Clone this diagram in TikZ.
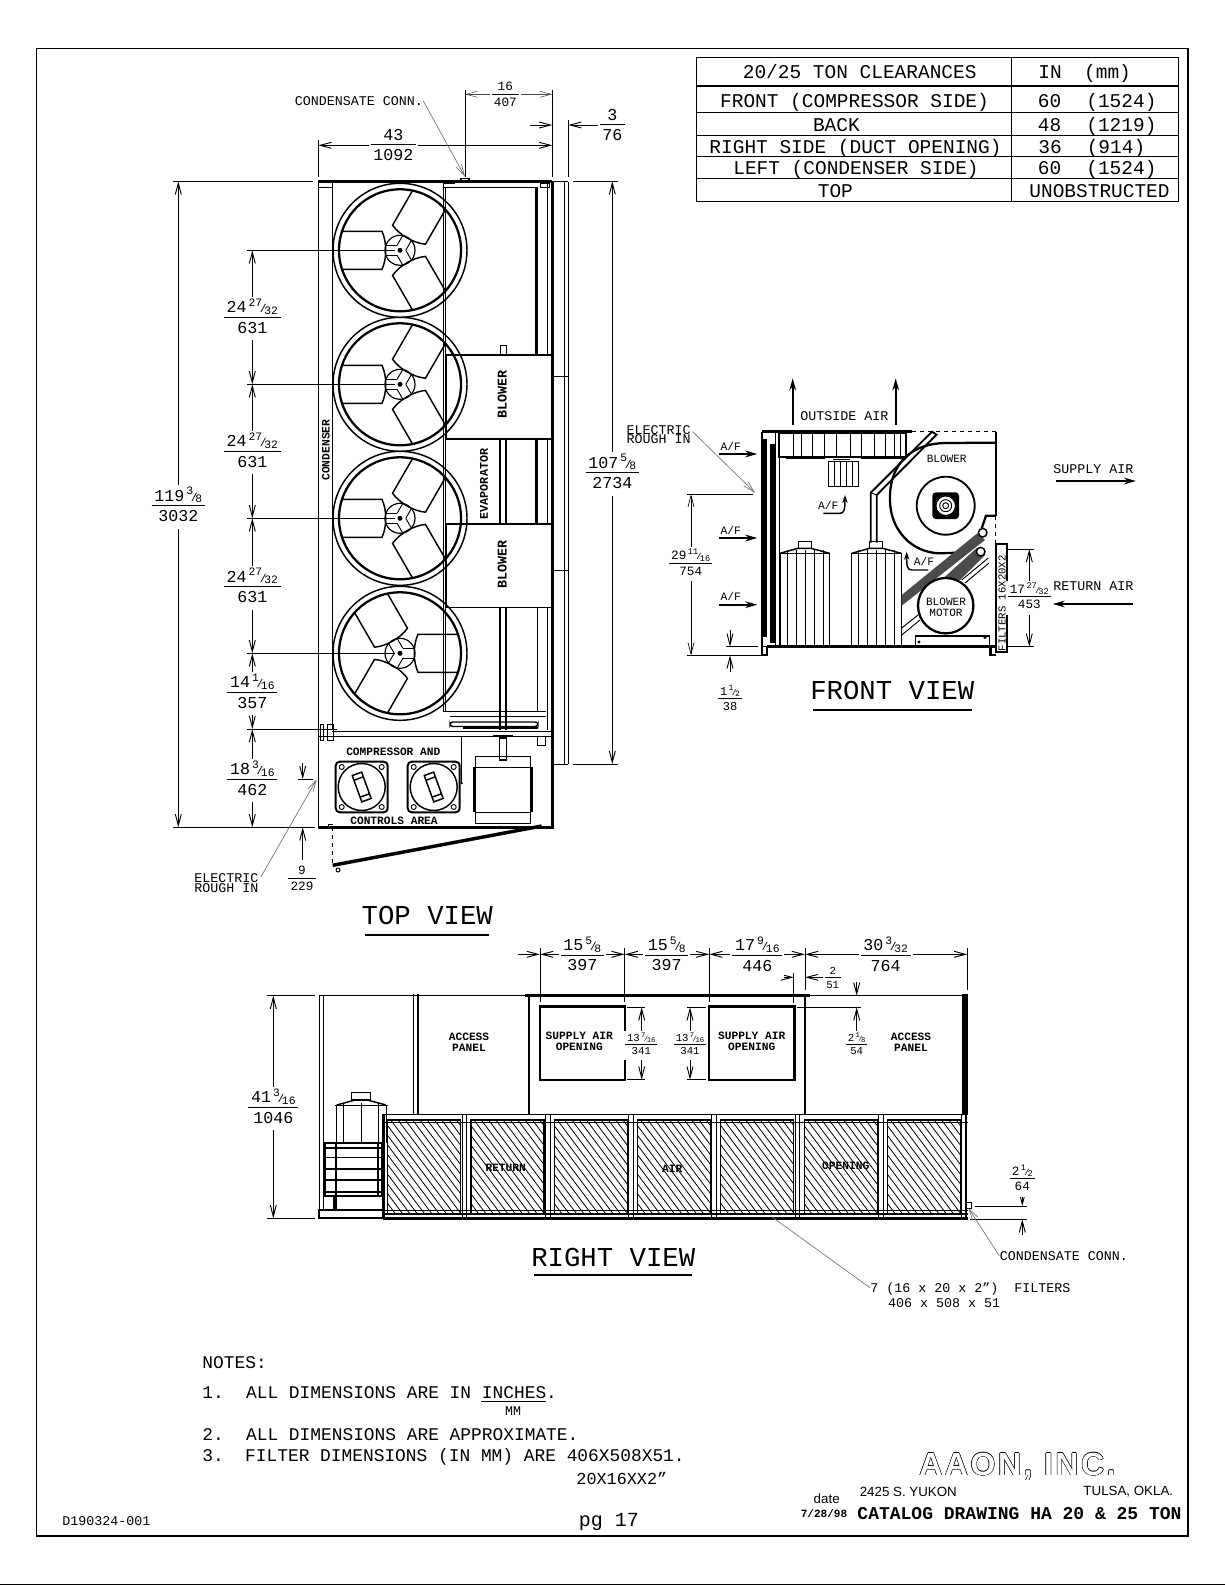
\documentclass[tikz,border=0pt]{standalone}
\usepackage{fontspec}
\setmainfont{Liberation Mono}
\newfontfamily\sansfont{Liberation Sans}
\newfontfamily\logofont[LetterSpace=8]{Liberation Sans}
\usetikzlibrary{arrows.meta}

\tikzset{
    >={Straight Barb[length=8.5pt,width=4.5pt]},
    cad/.style={font=\fontsize{#1}{#1}\selectfont,inner sep=0pt,text height=.66*#1 pt,text depth=0pt},
    cadb/.style={font=\fontsize{#1}{#1}\bfseries\selectfont,inner sep=0pt},
    dimlab/.style={font=\fontsize{#1}{#1}\selectfont,inner sep=1.5pt,fill=white,yshift=-1.5pt},
    dimline/.style={<->,line width=.7pt},
    extline/.style={line width=.7pt},
    leader/.style={->,line width=.5pt,black!55},
    wall/.style={line width=2pt},
    edge/.style={line width=1.1pt},
    airflow/.style={-{Stealth[length=9pt,width=5pt]},line width=1.5pt},
}

% stacked dimension, inches over mm
\newcommand{\fr}[2]{\begin{tabular}{@{\,}c@{\,}}#1\\[-.05em]\hline\rule{0pt}{.95em}#2\end{tabular}}
\newcommand{\sfr}[2]{\hspace{.12em}\raisebox{.38em}{\scalebox{.68}{#1}}\hspace{-.14em}\scalebox{.68}{/}\hspace{-.14em}\raisebox{-.1em}{\scalebox{.68}{#2}}}

\newcommand{\fan}[3]{
    \begin{scope}[shift={(#1,#2)},xscale=#3]
        \draw[line width=1.1pt] circle [radius=67];
        \draw[line width=1.7pt] circle [radius=61];
        \draw[line width=.9pt] circle [radius=15];
        \fill circle [radius=2.5];
        \foreach \ang in {0,120,240} {
            \begin{scope}[rotate=\ang]
                \draw[edge] (-57,-19) -- (-18,-19) .. controls (-13,-8) and (-13,8) .. (-18,19) -- (-57,19);
                \draw (-14,-5) -- (-3,-5) (-14,5) -- (-3,5);
            \end{scope}
        }
    \end{scope}
}

\begin{document}
\begin{tikzpicture}[x=.75pt,y=-.75pt,line width=.7pt]
    \useasboundingbox (0,0) rectangle (1225,1585);
    \fill[white] (0,0) rectangle (1225,1585);
    \draw[line width=1.1pt] (36.5,48.5) rectangle (1188,1536);
    \draw (0,1584) -- (1225,1584);

    % clearances table
    \draw[line width=.8pt] (696.3,57.7) rectangle (1178.4,201.3);
    \draw[line width=.8pt] (1011.6,57.7) -- (1011.6,201.3);
    \foreach \yy in {86,112.3,135.3,156.3,178.7}
        \draw[line width=.8pt] (696.3,\yy) -- (1178.4,\yy);
    \begin{scope}[every node/.style={cad=14.6}]
        \node (clrhead) at (859.7,72) {20/25 TON CLEARANCES};
        \node (clrfront) at (854.5,100.7) {FRONT (COMPRESSOR SIDE)};
        \node (clrback) at (836.4,125.3) {BACK};
        \node (clrright) at (855.5,147.3) {RIGHT SIDE (DUCT OPENING)};
        \node (clrleft) at (856,168.3) {LEFT (CONDENSER SIDE)};
        \node (clrtop) at (835.4,190.7) {TOP};
        \node (inhead) at (1050,72) {IN};
        \node (mmhead) at (1107.5,72) {(mm)};
        \node (in60a) at (1049.5,100.7) {60};
        \node (mm60a) at (1121.4,100.7) {(1524)};
        \node (in48) at (1049.5,125.3) {48};
        \node (mm48) at (1121.4,125.3) {(1219)};
        \node (in36) at (1050,147.3) {36};
        \node (mm36) at (1116,147.3) {(914)};
        \node (in60b) at (1049.5,168.3) {60};
        \node (mm60b) at (1121.4,168.3) {(1524)};
        \node (unobstr) at (1099.5,190.7) {UNOBSTRUCTED};
    \end{scope}

    % top view
    \draw[wall] (318.3,181.7) -- (552.3,181.7);
    \draw[wall] (552.3,181.7) -- (552.3,827.3) -- (318.3,827.3);
    \draw[edge] (318.3,181.7) -- (318.3,827.3);
    \draw (332.3,181.7) -- (332.3,729);
    \draw (318.3,187) -- (332.3,187);
    \draw (443,183) -- (443,712) (445,187) -- (445,712);
    \draw (443,183) -- (455,183) (443,187) -- (536,187);
    \draw (547,183) -- (547,355) (547,439) -- (547,524) (547,608) -- (547,730);
    \draw (540,187) rectangle (549,183);
    \draw[line width=2.6pt] (536.7,187) -- (536.7,355) (536.7,439) -- (536.7,524);
    \draw (537,608) -- (537,712);
    \draw (564.3,181.7) -- (564.3,764) (568.3,181.7) -- (568.3,764);
    \draw (552.3,376) -- (568.3,376) (552.3,570) -- (568.3,570) (552.3,764) -- (568.3,764);
    \draw (552.3,181.7) -- (568.3,181.7);
    \draw[edge] (461,178.3) rectangle (469,181.7);

    % blower boxes and drive shaft
    \draw (500,345) rectangle (506,355);
    \draw[edge] (446.7,355) rectangle (551.7,439);
    \draw[edge] (446.7,524) rectangle (551.7,607.7);
    \draw[edge] (500,439) -- (500,524) (506,439) -- (506,524);
    \draw[edge] (500,607.7) -- (500,730) (506,607.7) -- (506,730);
    \node[cadb=10,rotate=90] (blowera) at (502.3,394.3) {BLOWER};
    \node[cadb=10,rotate=90] (blowerb) at (502.3,564.3) {BLOWER};
    \node[cadb=8.8,rotate=90] (evap) at (484,484) {EVAPORATOR};
    \node[cadb=8.5,rotate=90] (cond) at (326,450) {CONDENSER};
    \fan{400}{250.3}{1}
    \fan{400}{384.3}{1}
    \fan{400}{518.3}{1}
    \fan{400}{653.3}{-1}

    % compressor compartment
    \draw (332.3,731.7) -- (552,731.7) (332.3,736) -- (552,736);
    \draw (318.3,736) -- (332,736);
    \draw (320,724.5) rectangle (323.5,740) (327,724.5) rectangle (333,740);
    \draw (443,711.7) -- (546,711.7) (450,716.7) -- (546,716.7);
    \draw[edge,rounded corners=2pt] (450,722) rectangle (538,726.5);
    \draw[line width=1.6pt] (463,728) -- (538,728);
    \draw (461.7,736) -- (461.7,783);
    \fill (461.7,783) circle [radius=1.3];
    \draw (537.3,736.7) rectangle (545.7,745);
    \foreach \cx in {361.7,433.7} {
        \begin{scope}[shift={(\cx,787)}]
            \draw[line width=1.5pt,rounded corners=3pt] (-26,-25.3) rectangle (26,25.3);
            \draw[edge] circle [radius=23.5];
            \foreach \bx/\by in {-20/-20,20/-20,-20/20,20/20}
                \draw (\bx,\by) circle [radius=2.5];
            \begin{scope}[rotate=20]
                \draw[edge] (-5,-14) rectangle (5,14);
                \draw[edge] (-5,-9) -- (5,-9) (-5,9) -- (5,9);
            \end{scope}
        \end{scope}
    }
    \draw[line width=1.6pt] (492.7,736) -- (513.3,736);
    \draw[edge] (499.3,738) rectangle (506.7,760);
    \draw[edge] (475.7,756.7) rectangle (530.7,823.3);
    \draw[edge] (475.7,767.3) -- (530.7,767.3) (475.7,812.3) -- (530.7,812.3);
    \draw[line width=1.6pt] (474.5,767.3) -- (474.5,812.3) (531.5,767.3) -- (531.5,812.3);
    \node[cadb=8.4] (compr) at (393.3,751.7) {COMPRESSOR AND};
    \node[cadb=8.4] (ctrl) at (394,821) {CONTROLS AREA};

    % open door
    \draw[line width=2.6pt] (541.7,826) -- (332.7,865.3);
    \draw[dashed] (332.3,827.3) -- (332.3,865);
    \draw (328.5,826) -- (328.5,824) -- (332.5,824);
    \draw (338,870) circle [radius=2];

    % top view dimensions
    \draw[extline] (173.3,181.3) -- (313.3,181.3) (573.3,181.3) -- (618.3,181.3);
    \draw[extline] (173.3,827.3) -- (315,827.3) (573.3,764) -- (618.3,764);
    \draw[extline] (318.3,140) -- (318.3,176.7) (552.3,120) -- (552.3,176.7);
    \draw[extline] (568.3,120) -- (568.3,176.7);
    \draw[extline] (465,90) -- (465,176.7) (552.3,90) -- (552.3,120);
    \foreach \yy in {250.3,384.3,518.3,653.3}
        \draw[extline] (247.3,\yy) -- (395,\yy);
    \draw[extline] (247.3,729) -- (336.7,729);
    \draw[dimline] (318.3,145.3) -- (552.3,145.3);
    \draw[dimline,line width=.4pt,black!70] (465,94.3) -- (552.3,94.3);
    \draw[->] (530,125) -- (552.3,125);
    \draw[->] (598,125) -- (568.3,125);
    \draw[dimline] (178.3,181.3) -- (178.3,827.3);
    \draw[dimline] (612.3,181.3) -- (612.3,764);
    \foreach \ya/\yb in {250.3/384.3,384.3/518.3,518.3/653.3,653.3/729,729/827.3}
        \draw[dimline] (252.3,\ya) -- (252.3,\yb);
    \draw[extline] (298,779) -- (313,779);
    \draw[->] (302.7,763) -- (302.7,779);
    \draw[->] (302.7,860) -- (302.7,827.3);
    \node[dimlab=12.5] (dwidth) at (393.3,145) {\fr{43}{1092}};
    \node[dimlab=9.5] (dconn) at (505.3,94.3) {\fr{16}{407}};
    \node[dimlab=12.5] (dpanel) at (612.3,125) {\fr{3}{76}};
    \node[dimlab=12.5] (dlength) at (178.3,505) {\fr{119\sfr{3}{8}}{3032}};
    \node[dimlab=12.5] (dcoil) at (612.3,472) {\fr{107\sfr{5}{8}}{2734}};
    \node[dimlab=12.5] (dpitcha) at (252.3,316.7) {\fr{24\sfr{27}{32}}{631}};
    \node[dimlab=12.5] (dpitchb) at (252.3,450.7) {\fr{24\sfr{27}{32}}{631}};
    \node[dimlab=12.5] (dpitchc) at (252.3,586) {\fr{24\sfr{27}{32}}{631}};
    \node[dimlab=12.5] (dfanend) at (252.3,691.7) {\fr{14\sfr{1}{16}}{357}};
    \node[dimlab=12.5] (dcompr) at (252.3,778.3) {\fr{18\sfr{3}{16}}{462}};
    \node[dimlab=9.5] (dnine) at (302,878) {\fr{9}{229}};

    \node[cad=10,anchor=west] (condtop) at (294.3,101) {CONDENSATE CONN.};
    \draw[leader] (condtop.east) -- (465,176.7);
    \node[cad=10] (elecb) at (226.3,878) {ELECTRIC};
    \node[cad=10] (roughb) at (226.3,888) {ROUGH IN};
    \draw[leader] (261,876.7) -- (316.7,779.3);
    \node[cad=20.5] (topview) at (427.3,915) {TOP VIEW};
    \draw[line width=1.6pt] (365,934.7) -- (489,934.7);

    % front view
    \draw[line width=1.3pt] (761.7,431.7) -- (761.7,655) -- (767,655) -- (767,646.7);
    \draw[line width=1.9pt] (767,646.7) -- (995.7,646.7);
    \draw[line width=2.4pt] (761.7,431.7) -- (911.7,431.7);
    \draw[dashed,line width=1pt] (911.7,431.7) -- (995.7,431.7);
    \draw[line width=1.4pt] (995.7,431.7) -- (995.7,515.7);
    \draw[dashed,line width=1pt] (995.7,515.7) -- (995.7,544);
    \draw[line width=1.6pt] (990.5,646.7) -- (990.5,655) -- (995.7,655);
    \fill (761.7,439) rectangle (766.7,636.7);
    \fill (770,444) rectangle (775.7,642.7);
    \draw (775.7,431.7) -- (775.7,646.7);
    \draw[edge] (779.3,431.7) -- (779.3,646.7);
    \draw (761.7,646.7) -- (779,646.7);
    \draw[line width=1.6pt] (779.3,433.3) rectangle (906,456.7);
    \foreach \xx in {793,801.7,812.7,824,836.7,850,861.7,874,885,894,900}
        \draw (\xx,434) -- (\xx,456);
    \draw[line width=1.3pt] (786,458.3) -- (825,458.3) (860.7,458.3) -- (905,458.3);
    \draw (828.3,461.7) rectangle (858.7,486.7);
    \foreach \xx in {834.3,840.3,846.3,852.3}
        \draw (\xx,461.7) -- (\xx,486.7);
    \draw[line width=1.3pt] (833,459.5) -- (850,459.5);
    \draw[line width=1.4pt] (870.7,542.7) -- (870.7,492.7) -- (932,431.7) -- (936.5,434.7) -- (876.7,495) -- (876.7,542.7);
    \draw (870.7,492.7) -- (876.7,495);
    \foreach \tx in {780,851.7} {
        \begin{scope}[shift={(\tx,0)}]
            \draw (0,553.3) rectangle (49.6,645);
            \draw[edge] (0,553.3) -- (18,548.3) -- (31,548.3) -- (49.6,553.3);
            \draw (18,541.7) rectangle (31,548.3);
            \foreach \xx in {7,16,25,34,43}
                \draw (\xx,550) -- (\xx,645);
            \draw (1,645) rectangle (4,647) (45,645) rectangle (48,647);
        \end{scope}
    }
    \draw[line width=1.7pt] (995.7,442.7) -- (945,443) .. controls (905,444) and (889,470) .. (890,500) .. controls (890,530) and (912,553) .. (940,553.3) -- (956.7,552.7);
    \draw[line width=1.7pt] (995.7,515.7) -- (986,515.7) -- (981.7,528.3);
    \draw[line width=1.4pt] (945.7,505.7) circle [radius=29];
    \fill[rounded corners=2.5pt] (932.4,492.4) rectangle (959,519);
    \fill[white] (945.7,505.7) circle [radius=10.5];
    \draw[edge] (945.7,505.7) circle [radius=10];
    \draw (945.7,505.7) circle [radius=6];
    \draw (945.7,505.7) circle [radius=3];
    \fill[black!70] (901.7,595) -- (977.3,533.3) -- (985,540) -- (901.7,605.7) -- cycle;
    \fill[black!70] (945,576.7) -- (976.7,548) -- (985,555) -- (960,580) -- cycle;
    \draw[edge,fill=white] (982.7,532.7) circle [radius=4.3];
    \draw[edge,fill=white] (980.7,551.7) circle [radius=4.3];
    \draw (961.7,580) -- (988.3,558) (965,583) -- (989,563);
    \draw (901.7,628) -- (918,615) (901.7,635) -- (920,620);
    \draw[line width=1.7pt] (945.7,605.7) circle [radius=27.7];
    \draw[line width=1.5pt] (915.7,635.5) -- (989.3,635.5);
    \draw (915.7,635.5) rectangle (989.3,645);
    \draw (919,642) circle [radius=1] (985,637.5) circle [radius=1];
    \draw[line width=1.6pt] (995.7,544) rectangle (1007.3,651.7);
    \node[cad=8,rotate=90] (filterlab) at (1002,603.3) {FILTERS 16X20X2};
    \node[cad=8.3] (blowerc) at (946.7,459) {BLOWER};
    \node[cad=8.3] (blowerd) at (946,602.3) {BLOWER};
    \node[cad=8.3] (motor) at (946,612.7) {MOTOR};

    % front view air flow
    \draw[airflow] (792.7,425) -- (792.7,378.3);
    \draw[airflow] (895.7,425) -- (895.7,378.3);
    \node[cad=10] (outair) at (844.3,415.7) {OUTSIDE AIR};
    \foreach \yy/\name in {454/afa,538/afb,604.7/afc} {
        \draw[airflow] (719.3,\yy) -- (757.3,\yy);
        \node[cad=8.5] (\name) at (730.7,\yy-7.5) {A/F};
    }
    \node[cad=8.5] (afd) at (828.3,506) {A/F};
    \draw[-{Stealth[length=6pt,width=4pt]},line width=1.1pt] (823.3,513.3) -- (840,513.3) .. controls (844,513.3) and (845,510) .. (845,495);
    \node[cad=8.5] (afe) at (924,562) {A/F};
    \draw[-{Stealth[length=6pt,width=4pt]},line width=1.1pt] (928.3,570) -- (912,570) .. controls (907,570) and (906.7,566) .. (906.7,551.7);
    \node[cad=10] (supply) at (1093.3,468.7) {SUPPLY AIR};
    \draw[airflow,line width=1.2pt] (1056,481) -- (1136,481);
    \node[cad=10] (return) at (1093.3,585.7) {RETURN AIR};
    \draw[airflow,line width=1.2pt] (1133.3,604) -- (1052.7,604);

    % front view dimensions
    \draw[extline] (1008,549) -- (1034,549) (1008,646.7) -- (1034,646.7);
    \draw[extline] (686.7,494.3) -- (753.3,494.3) (686.7,655.3) -- (761,655.3);
    \draw[extline] (726,646.7) -- (758.3,646.7);
    \draw[dimline] (1029.3,549) -- (1029.3,646.7);
    \draw[dimline,line width=.5pt] (691,494.3) -- (691,655.3);
    \draw[->] (730,630) -- (730,646.7);
    \draw[->] (730,671.7) -- (730,655.3);
    \node[dimlab=9.5] (dreturn) at (1029.3,595.7) {\fr{17\sfr{27}{32}}{453}};
    \node[dimlab=9.5] (drough) at (690.7,562.3) {\fr{29\sfr{11}{16}}{754}};
    \node[dimlab=9] (dbase) at (730,697.7) {\fr{1\sfr{1}{2}}{38}};
    \node[cad=10] (eleca) at (658.7,430.3) {ELECTRIC};
    \node[cad=10] (rougha) at (658.7,439.5) {ROUGH IN};
    \draw[leader] (692.7,431.7) -- (755,492.7);
    \node[cad=20.5] (frontview) at (892.3,690.7) {FRONT VIEW};
    \draw[line width=1.6pt] (812.7,710) -- (972,710);

    % right view
    \draw (319.3,995.7) -- (525,995.7) (810,995.7) -- (961.7,995.7);
    \draw[wall] (525,995.7) -- (810,995.7);
    \draw (319.3,995.7) -- (319.3,1218.3) (323.3,995.7) -- (323.3,1210);
    \draw[edge] (413.3,994) -- (413.3,1114.3);
    \draw[line width=1.9pt] (418,994) -- (418,1114.3);
    \draw[line width=1.5pt] (529,995.7) -- (529,1114.3);
    \draw[line width=1.5pt] (805,995.7) -- (805,1114.3);
    \fill (961.7,994) rectangle (968.3,1115);
    \draw[wall] (540,1006.7) rectangle (625,1080);
    \draw[wall] (709,1006.7) rectangle (794.3,1080);
    \node[cadb=8.4,align=center] (supplya) at (579.3,1041) {SUPPLY AIR\\OPENING};
    \node[cadb=8.4,align=center] (supplyb) at (751.7,1041) {SUPPLY AIR\\OPENING};
    \node[cadb=8.4,align=center] (accessa) at (469,1042) {ACCESS\\PANEL};
    \node[cadb=8.4,align=center] (accessb) at (911,1042) {ACCESS\\PANEL};

    % filter rack
    \draw[edge] (382.7,1114.3) -- (967.7,1114.3);
    \draw (382.7,1122.3) -- (967.7,1122.3);
    \draw (382.7,1210) -- (967.7,1210);
    \draw[line width=2.4pt] (382.7,1218.3) -- (967.7,1218.3);
    \draw[edge] (382.7,1214) -- (967.7,1214);
    \draw[wall] (383.5,1114.3) -- (383.5,1218.3);
    \draw[wall] (966,1115) -- (966,1218.3);
    \foreach \k in {0,...,6} {
        \begin{scope}[shift={(83.3*\k,0)}]
            \begin{scope}
                \clip (387.7,1120) rectangle (460.7,1213.3);
                \foreach \hx in {-70,-62.7,...,75}
                    \draw[line width=.6pt] (387.7+\hx,1120) -- (457.7+\hx,1213.3);
            \end{scope}
            \draw[line width=.8pt] (387.7,1120) rectangle (460.7,1213.3);
            \draw (466.7,1114.3) -- (466.7,1218.3) (462,1114.3) -- (462,1218.3);
        \end{scope}
    }
    \node[cadb=8.4] (filta) at (505.7,1168.3) {RETURN};
    \node[cadb=8.4] (filtb) at (672.3,1168.3) {AIR};
    \node[cadb=8.4] (filtc) at (845.7,1166) {OPENING};

    % right view compressor and condenser end
    \draw (336.7,1105) -- (336.7,1143.3) (386,1105) -- (386,1143.3);
    \draw[edge] (336.7,1105) -- (355,1100) -- (367.3,1100) -- (386,1105);
    \draw (335,1105) -- (388,1105);
    \draw[edge] (351.7,1092.7) rectangle (370.7,1100);
    \foreach \xx in {343.3,361,378.3}
        \draw (\xx,1103) -- (\xx,1143.3);
    \draw[line width=1.6pt] (325,1143.3) rectangle (381.7,1195.7);
    \draw[line width=1.3pt] (325,1148.3) -- (381.7,1148.3) (325,1169) -- (381.7,1169) (325,1180) -- (381.7,1180) (325,1191.7) -- (381.7,1191.7);
    \draw (325,1157.3) -- (381.7,1157.3);
    \draw[line width=1.3pt] (336,1143.3) -- (336,1195.7) (378,1143.3) -- (378,1195.7);
    \fill (333.3,1196.7) rectangle (337.3,1210);
    \draw[line width=1.6pt] (319.3,1210) rectangle (382.7,1218.3);
    \draw[edge] (965.7,1202.7) rectangle (971.7,1208.3);

    % right view dimensions
    \foreach \xx in {540,624.7,709.3}
        \draw[extline] (\xx,948.3) -- (\xx,1001.7);
    \draw[extline] (805,948.3) -- (805,990) (967.3,948.3) -- (967.3,990);
    \draw[extline] (793.7,973) -- (793.7,1003);
    \draw[->] (518.3,954.3) -- (540,954.3);
    \foreach \xa/\xb in {540/624.7,624.7/709.3,709.3/805,805/967.3}
        \draw[dimline] (\xa,954.3) -- (\xb,954.3);
    \draw[->] (780,977.3) -- (793.7,977.3);
    \draw[->] (825,977.3) -- (805,977.3);
    \draw[extline] (796.7,1007.3) -- (861,1007.3);
    \draw[->] (856.7,981.7) -- (856.7,995.7);
    \draw[->] (856.7,1031.7) -- (856.7,1007.3);
    \draw[extline] (627,1007.3) -- (645,1007.3) (627,1079.7) -- (645,1079.7);
    \draw[extline] (686.7,1007.3) -- (706,1007.3) (686.7,1079.7) -- (706,1079.7);
    \draw[dimline] (641.7,1007.3) -- (641.7,1079.7);
    \draw[dimline] (690,1007.3) -- (690,1079.7);
    \draw[extline] (267.3,995.7) -- (315,995.7) (267.3,1218.3) -- (315,1218.3);
    \draw[dimline] (273.3,995.7) -- (273.3,1218.3);
    \draw[extline] (975,1206) -- (1026.7,1206) (970,1219.3) -- (1026.7,1219.3);
    \draw[->] (1022.3,1193.3) -- (1022.3,1206);
    \draw[->] (1022.3,1235) -- (1022.3,1219.3);
    \node[dimlab=12.5] (dopena) at (582.3,954.3) {\fr{15\sfr{5}{8}}{397}};
    \node[dimlab=12.5] (dopenb) at (666.7,954.3) {\fr{15\sfr{5}{8}}{397}};
    \node[dimlab=12.5] (dopenc) at (757.3,954.3) {\fr{17\sfr{9}{16}}{446}};
    \node[dimlab=12.5] (dopend) at (885.7,954.3) {\fr{30\sfr{3}{32}}{764}};
    \node[dimlab=8] (dtwo) at (832.7,977.3) {\fr{2}{51}};
    \node[dimlab=8] (dtop) at (856.7,1043.3) {\fr{2\sfr{1}{8}}{54}};
    \node[dimlab=8] (dhgta) at (641.3,1043.3) {\fr{13\sfr{7}{16}}{341}};
    \node[dimlab=8] (dhgtb) at (690,1043.3) {\fr{13\sfr{7}{16}}{341}};
    \node[dimlab=12.5] (dheight) at (273.3,1106.7) {\fr{41\sfr{3}{16}}{1046}};
    \node[dimlab=9.5] (ddrain) at (1022.3,1177.7) {\fr{2\sfr{1}{2}}{64}};

    \node[cad=10,anchor=west] (condright) at (999.3,1255.7) {CONDENSATE CONN.};
    \draw[leader] (condright.west) -- (968.3,1208);
    \node[cad=10,anchor=west] (filtnote) at (870,1287.7) {7 (16 x 20 x 2")\ \ FILTERS};
    \node[cad=10,anchor=west] (filtmm) at (887.7,1302.7) {406 x 508 x 51};
    \draw[leader,-] (filtnote.west) -- (771.7,1216.7);
    \node[cad=20.5] (rightview) at (613.3,1257.3) {RIGHT VIEW};
    \draw[line width=1.6pt] (534,1274.7) -- (692,1274.7);

    % notes
    \begin{scope}[every node/.style={cad=13.4,anchor=west}]
        \node (notes) at (202,1362.7) {NOTES:};
        \node (notea) at (202,1392.7) {1.};
        \node (noteatxt) at (245.6,1392.7) {ALL DIMENSIONS ARE IN INCHES.};
        \node (noteb) at (202,1435) {2.};
        \node (notebtxt) at (245.6,1435) {ALL DIMENSIONS ARE APPROXIMATE.};
        \node (notec) at (202,1455.7) {3.};
        \node (notectxt) at (244.7,1455.7) {FILTER DIMENSIONS (IN MM) ARE 406X508X51.};
        \node[cad=12.6] (notemm) at (576,1479) {20X16XX2"};
    \end{scope}
    \draw (481,1401) -- (546,1401);
    \node[cad=10] (noteunit) at (513,1411) {MM};
    \node[cad=10,anchor=west] (dwg) at (62,1521) {D190324-001};
    \node[cad=15,anchor=west] (page) at (578.5,1520) {pg 17};

    % title block
    \foreach \ax/\ay in {-.5/0,.5/0,0/-.5,0/.5,-.35/-.35,.35/-.35,-.35/.35,.35/.35}
        \node[inner sep=0pt,font=\fontsize{24}{24}\logofont\bfseries\selectfont] at (1017.5+\ax,1466.7+\ay) {AAON, INC.};
    \node[inner sep=0pt,white,font=\fontsize{24}{24}\logofont\bfseries\selectfont] (aaon) at (1017.5,1466.7) {AAON, INC.};
    \node[inner sep=0pt,font=\fontsize{10}{10}\sansfont\selectfont] (street) at (908.3,1491.7) {2425 S. YUKON};
    \node[inner sep=0pt,font=\fontsize{10}{10}\sansfont\selectfont] (city) at (1128.3,1491.7) {TULSA, OKLA.};
    \node[inner sep=0pt,font=\fontsize{10}{10}\sansfont\selectfont] (datelab) at (826.7,1499) {date};
    \node[cadb=8.3] (dateval) at (824,1513.3) {7/28/98};
    \node[cadb=13.5] (dwgtitle) at (1019.5,1513.3) {CATALOG DRAWING HA 20 \& 25 TON};
\end{tikzpicture}
\end{document}
